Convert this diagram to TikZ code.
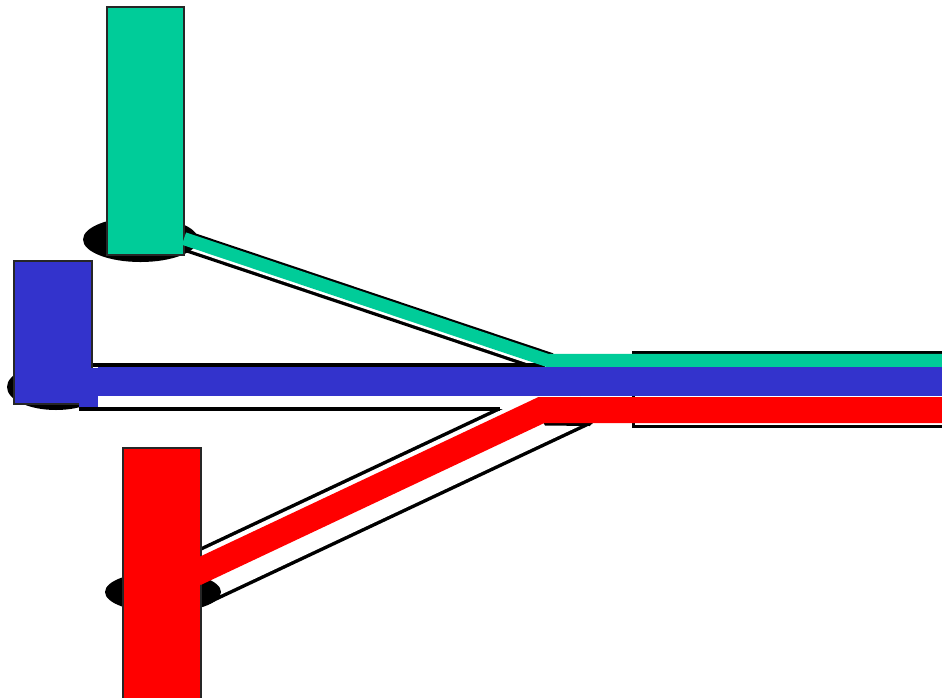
\documentclass[tikz,border=0pt]{standalone}
\definecolor{cgreen}{HTML}{00CC99}
\definecolor{cblue}{HTML}{3333CC}
\definecolor{cred}{HTML}{FF0000}
\tikzset{
  blob/.style={fill=black},
  pipeout/.style={draw=black},
  pipein/.style={draw=white},
  block/.style={draw=black!85, line width=1.5pt},
  outline/.style={draw=black, line width=4pt}
}
\begin{document}
\begin{tikzpicture}[x=1pt,y=-1pt,line join=miter]
\useasboundingbox (0,0) rectangle (942,697);
% blue base ellipse (beneath its pipe)
\fill[blob] (56,387) ellipse [x radius=49, y radius=23];
% green pipe
\coordinate (gs) at (184,240.6);
\coordinate (ge) at (550,363.25);
\draw[pipeout, line width=21pt] (gs) -- (ge);
\draw[pipein, line width=14.4pt] (gs) -- (ge);
\fill[blob] (140.5,239.5) ellipse [x radius=57.5, y radius=22.5];
\path[block, fill=cgreen] (107,7) rectangle (184,255);
% red pipe
\coordinate (rs) at (195,580.3);
\coordinate (re) at (581,398.9);
\draw[pipeout, line width=55pt] (rs) -- (re);
\draw[pipein, line width=48pt] (rs) -- (re);
\fill[blob] (163,592) ellipse [x radius=58, y radius=20.5];
\path[block, fill=cred] (123,448) rectangle (201,700);
\fill[blob] (543,422) -- (592,422) -- (590,426) -- (545,425.5) -- cycle;
% blue pipe
\fill[white] (92,365) rectangle (545,409);
\draw[outline] (92,365) -- (545,365);
\draw[outline] (79,409) -- (500,409);
\path[block, fill=cblue] (14,261) rectangle (92,404);
\fill[cblue] (79,368) rectangle (98,407);
% right box
\draw[black, line width=3pt, fill=white] (633,352.5) rectangle (960,426.5);
% coloured bands
\draw[cgreen, line width=13pt] (184,238.6) -- (547,360.25) -- (950,360.25);
\draw[cblue, line width=29pt] (98,381.5) -- (950,381.5);
\draw[cred, line width=26pt] (195,573.3) -- (541.4,410) -- (950,410);
\end{tikzpicture}
\end{document}
